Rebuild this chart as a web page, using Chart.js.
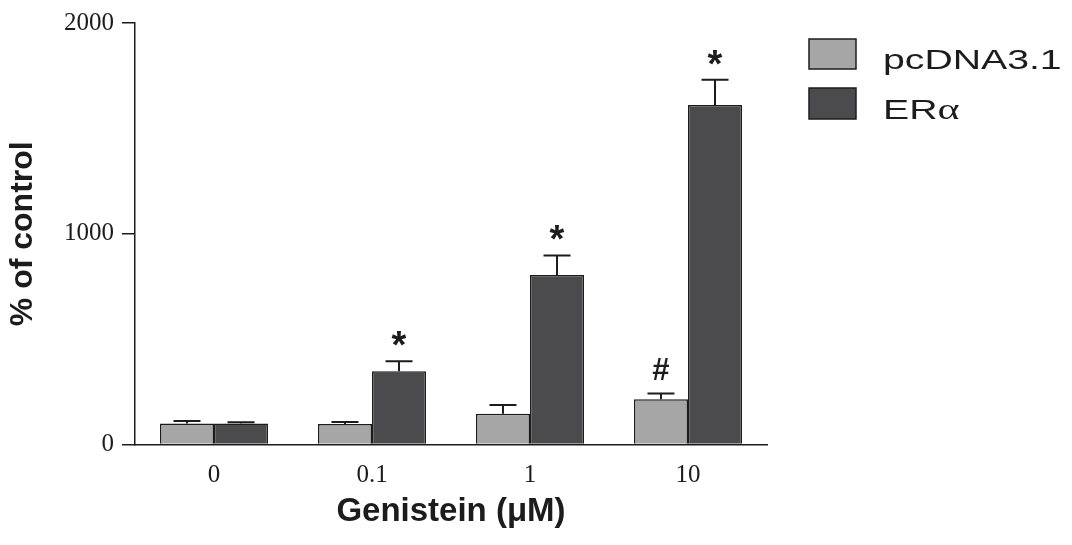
<!DOCTYPE html>
<html>
<head>
<meta charset="utf-8">
<script src="https://cdn.jsdelivr.net/npm/chart.js@4"></script>
<style>
  html, body { margin: 0; padding: 0; background: #ffffff; }
  #wrap { width: 1072px; height: 545px; position: relative; }
</style>
</head>
<body>
<div id="wrap"><canvas id="c"></canvas></div>
<script>
// ---- data ----
const categories = ["0", "0.1", "1", "10"];
const seriesNames = ["pcDNA3.1", "ER\u03B1"];
const pcdnaValues = [100, 97, 146, 215];
const pcdnaErrors = [11, 10, 42, 27];
const eraValues = [100, 348, 804, 1611];
const eraErrors = [5, 47, 93, 120];
const pcdnaMarks = ["", "", "", "#"];
const eraMarks = ["", "*", "*", "*"];
const yTicks = [0, 1000, 2000];
const xTitle = "Genistein (\u03BCM)";
const yTitle = "% of control";

const colors = ["#a6a6a6", "#4b4b4d"];
const ink = "#1c1c1c";

const errorBarPlugin = {
  id: "errorBars",
  afterDatasetsDraw(chart) {
    const ctx = chart.ctx;
    const yScale = chart.scales.y;
    chart.data.datasets.forEach((ds, i) => {
      const meta = chart.getDatasetMeta(i);
      meta.data.forEach((bar, j) => {
        const v = ds.data[j];
        const e = ds.errors[j];
        const yTop = yScale.getPixelForValue(v);
        const yErr = yScale.getPixelForValue(v + e);
        ctx.save();
        ctx.strokeStyle = ink;
        ctx.lineWidth = 2;
        ctx.beginPath();
        ctx.moveTo(bar.x, yTop);
        ctx.lineTo(bar.x, yErr);
        ctx.moveTo(bar.x - 13.5, yErr);
        ctx.lineTo(bar.x + 13.5, yErr);
        ctx.stroke();
        const m = ds.marks[j];
        if (m) {
          ctx.fillStyle = ink;
          ctx.textAlign = "center";
          ctx.textBaseline = "middle";
          if (m === "*") {
            ctx.font = "bold 38px 'Liberation Sans'";
            ctx.fillText(m, bar.x, yErr - 22 + 0.22 * 38);
          } else {
            ctx.font = "bold 31px 'Liberation Sans'";
            ctx.fillText(m, bar.x, yErr - 22);
          }
        }
        ctx.restore();
      });
    });
  }
};

const legendPlugin = {
  id: "customLegend",
  afterDraw(chart) {
    const ctx = chart.ctx;
    const boxes = [[809, 39, 47, 30], [809, 88, 47, 31]];
    chart.data.datasets.forEach((ds, i) => {
      const [bx, by, bw, bh] = boxes[i];
      ctx.save();
      ctx.fillStyle = ds.backgroundColor;
      ctx.fillRect(bx, by, bw, bh);
      ctx.strokeStyle = ink;
      ctx.lineWidth = 1.5;
      ctx.strokeRect(bx, by, bw, bh);
      ctx.fillStyle = ink;
      ctx.textBaseline = "alphabetic";
      ctx.textAlign = "left";
      ctx.translate(883, by + bh - 0.5);
      ctx.scale(1.4, 1);
      // Greek letters drawn in a serif face like the original symbol font
      let x = 0;
      for (const ch of ds.label) {
        const greek = /[\u0370-\u03FF]/.test(ch);
        ctx.font = greek ? "30px 'Liberation Serif'" : "28px 'Liberation Sans'";
        ctx.fillText(ch, x, 0);
        x += ctx.measureText(ch).width;
      }
      ctx.restore();
    });
  }
};

new Chart(document.getElementById("c"), {
  type: "bar",
  data: {
    labels: categories,
    datasets: [
      { label: seriesNames[0], data: pcdnaValues, errors: pcdnaErrors, marks: pcdnaMarks,
        backgroundColor: colors[0], borderColor: ink, borderWidth: 1.5 },
      { label: seriesNames[1], data: eraValues, errors: eraErrors, marks: eraMarks,
        backgroundColor: colors[1], borderColor: ink, borderWidth: 1.5 }
    ]
  },
  options: {
    responsive: true,
    maintainAspectRatio: false,
    animation: false,
    devicePixelRatio: 1,
    layout: { padding: { top: 22, right: 305, bottom: 0, left: 0 } },
    plugins: { legend: { display: false }, tooltip: { enabled: false } },
    datasets: { bar: { categoryPercentage: 0.684, barPercentage: 1.0 } },
    scales: {
      x: {
        type: "category",
        grid: { display: false, drawTicks: false },
        border: { display: true, color: ink, width: 1.5 },
        ticks: { color: ink, padding: 16, font: { family: "'Liberation Serif'", size: 25 } },
        title: { display: true, text: xTitle, color: ink,
                 font: { family: "'Liberation Sans'", weight: "bold", size: 33 },
                 padding: { top: 0, bottom: 13 } },
        afterFit(s) { s.height = 100.5; }
      },
      y: {
        min: 0, max: 2000,
        afterBuildTicks(s) { s.ticks = yTicks.map(v => ({ value: v })); },
        grid: { display: true, drawOnChartArea: false, drawTicks: true, tickLength: 13, color: ink, lineWidth: 1.5 },
        border: { display: true, color: ink, width: 1.5 },
        ticks: { color: ink, padding: 8, font: { family: "'Liberation Serif'", size: 25 },
                 callback: (v) => String(v) },
        title: { display: true, text: yTitle, color: ink,
                 font: { family: "'Liberation Sans'", weight: "bold", size: 32 },
                 padding: { top: 4, bottom: 0 } },
        afterFit(s) { s.width = 135; }
      }
    }
  },
  plugins: [errorBarPlugin, legendPlugin]
});
</script>
</body>
</html>
